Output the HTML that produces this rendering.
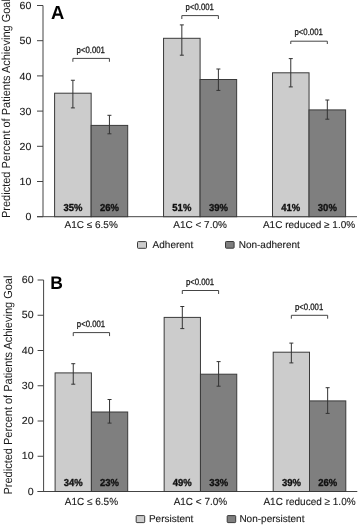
<!DOCTYPE html>
<html><head><meta charset="utf-8"><style>
html,body{margin:0;padding:0;background:#fff;}
body{width:359px;height:526px;overflow:hidden;}
svg{display:block;font-family:"Liberation Sans", sans-serif;text-rendering:geometricPrecision;}
body{filter:grayscale(1);}
</style></head><body>
<svg width="359" height="526" viewBox="0 0 359 526">
<rect width="359" height="526" fill="#fff"/>
<text transform="translate(9.6 218.0) rotate(-90) scale(1 1.07)" font-size="11.0" fill="#1a1a1a" text-anchor="start">Predicted Percent of Patients Achieving Goal</text>
<line x1="43.0" y1="5.5" x2="43.0" y2="216.7" stroke="#444" stroke-width="1"/>
<line x1="37.0" y1="5.50" x2="43.0" y2="5.50" stroke="#444" stroke-width="1"/>
<text transform="translate(31.40 9.10) scale(1.030 1)" font-size="10.3" fill="#1a1a1a" text-anchor="end" stroke="#1a1a1a" stroke-width="0.12">60</text>
<line x1="37.0" y1="40.70" x2="43.0" y2="40.70" stroke="#444" stroke-width="1"/>
<text transform="translate(31.40 44.30) scale(1.030 1)" font-size="10.3" fill="#1a1a1a" text-anchor="end" stroke="#1a1a1a" stroke-width="0.12">50</text>
<line x1="37.0" y1="75.90" x2="43.0" y2="75.90" stroke="#444" stroke-width="1"/>
<text transform="translate(31.40 79.50) scale(1.030 1)" font-size="10.3" fill="#1a1a1a" text-anchor="end" stroke="#1a1a1a" stroke-width="0.12">40</text>
<line x1="37.0" y1="111.10" x2="43.0" y2="111.10" stroke="#444" stroke-width="1"/>
<text transform="translate(31.40 114.70) scale(1.030 1)" font-size="10.3" fill="#1a1a1a" text-anchor="end" stroke="#1a1a1a" stroke-width="0.12">30</text>
<line x1="37.0" y1="146.30" x2="43.0" y2="146.30" stroke="#444" stroke-width="1"/>
<text transform="translate(31.40 149.90) scale(1.030 1)" font-size="10.3" fill="#1a1a1a" text-anchor="end" stroke="#1a1a1a" stroke-width="0.12">20</text>
<line x1="37.0" y1="181.50" x2="43.0" y2="181.50" stroke="#444" stroke-width="1"/>
<text transform="translate(31.40 185.10) scale(1.030 1)" font-size="10.3" fill="#1a1a1a" text-anchor="end" stroke="#1a1a1a" stroke-width="0.12">10</text>
<line x1="37.0" y1="216.70" x2="43.0" y2="216.70" stroke="#444" stroke-width="1"/>
<text transform="translate(31.40 220.30) scale(1.030 1)" font-size="10.3" fill="#1a1a1a" text-anchor="end" stroke="#1a1a1a" stroke-width="0.12">0</text>
<line x1="37.0" y1="216.7" x2="357.0" y2="216.7" stroke="#444" stroke-width="1"/>
<rect x="54.60" y="93.2" width="36.55" height="123.50" fill="#cccccc" stroke="#3a3a3a" stroke-width="1"/>
<rect x="91.15" y="125.4" width="36.55" height="91.30" fill="#7f7f7f" stroke="#3a3a3a" stroke-width="1"/>
<line x1="72.88" y1="80.25" x2="72.88" y2="107.9" stroke="#333" stroke-width="1"/>
<line x1="70.88" y1="80.25" x2="74.88" y2="80.25" stroke="#333" stroke-width="1"/>
<line x1="70.88" y1="107.9" x2="74.88" y2="107.9" stroke="#333" stroke-width="1"/>
<text transform="translate(72.88 211.10) scale(0.930 1)" font-size="10.2" font-weight="bold" fill="#111" text-anchor="middle" stroke="#111" stroke-width="0.35">35%</text>
<line x1="109.43" y1="115.3" x2="109.43" y2="133.8" stroke="#333" stroke-width="1"/>
<line x1="107.43" y1="115.3" x2="111.43" y2="115.3" stroke="#333" stroke-width="1"/>
<line x1="107.43" y1="133.8" x2="111.43" y2="133.8" stroke="#333" stroke-width="1"/>
<text transform="translate(109.43 211.10) scale(0.930 1)" font-size="10.2" font-weight="bold" fill="#111" text-anchor="middle" stroke="#111" stroke-width="0.35">26%</text>
<path d="M72.88 61.8 V58.4 H109.42 V61.8" fill="none" stroke="#444" stroke-width="1"/>
<text transform="translate(90.75 52.60) scale(0.845 1)" font-size="9.2" fill="#1a1a1a" text-anchor="middle" stroke="#1a1a1a" stroke-width="0.28">p&lt;0.001</text>
<text transform="translate(91.15 228.30) scale(1.000 1)" font-size="10.0" fill="#1a1a1a" text-anchor="middle" stroke="#1a1a1a" stroke-width="0.12">A1C ≤ 6.5%</text>
<rect x="163.55" y="38.3" width="36.55" height="178.40" fill="#cccccc" stroke="#3a3a3a" stroke-width="1"/>
<rect x="200.10" y="79.5" width="36.55" height="137.20" fill="#7f7f7f" stroke="#3a3a3a" stroke-width="1"/>
<line x1="181.83" y1="24.9" x2="181.83" y2="55.2" stroke="#333" stroke-width="1"/>
<line x1="179.83" y1="24.9" x2="183.83" y2="24.9" stroke="#333" stroke-width="1"/>
<line x1="179.83" y1="55.2" x2="183.83" y2="55.2" stroke="#333" stroke-width="1"/>
<text transform="translate(181.83 211.10) scale(0.930 1)" font-size="10.2" font-weight="bold" fill="#111" text-anchor="middle" stroke="#111" stroke-width="0.35">51%</text>
<line x1="218.38" y1="69.0" x2="218.38" y2="90.4" stroke="#333" stroke-width="1"/>
<line x1="216.38" y1="69.0" x2="220.38" y2="69.0" stroke="#333" stroke-width="1"/>
<line x1="216.38" y1="90.4" x2="220.38" y2="90.4" stroke="#333" stroke-width="1"/>
<text transform="translate(218.38 211.10) scale(0.930 1)" font-size="10.2" font-weight="bold" fill="#111" text-anchor="middle" stroke="#111" stroke-width="0.35">39%</text>
<path d="M181.83 19.0 V15.6 H218.38 V19.0" fill="none" stroke="#444" stroke-width="1"/>
<text transform="translate(199.70 10.00) scale(0.845 1)" font-size="9.2" fill="#1a1a1a" text-anchor="middle" stroke="#1a1a1a" stroke-width="0.28">p&lt;0.001</text>
<text transform="translate(200.10 228.30) scale(1.000 1)" font-size="10.0" fill="#1a1a1a" text-anchor="middle" stroke="#1a1a1a" stroke-width="0.12">A1C &lt; 7.0%</text>
<rect x="272.50" y="72.8" width="36.55" height="143.90" fill="#cccccc" stroke="#3a3a3a" stroke-width="1"/>
<rect x="309.05" y="109.9" width="36.55" height="106.80" fill="#7f7f7f" stroke="#3a3a3a" stroke-width="1"/>
<line x1="290.77" y1="58.6" x2="290.77" y2="86.9" stroke="#333" stroke-width="1"/>
<line x1="288.77" y1="58.6" x2="292.77" y2="58.6" stroke="#333" stroke-width="1"/>
<line x1="288.77" y1="86.9" x2="292.77" y2="86.9" stroke="#333" stroke-width="1"/>
<text transform="translate(290.77 211.10) scale(0.930 1)" font-size="10.2" font-weight="bold" fill="#111" text-anchor="middle" stroke="#111" stroke-width="0.35">41%</text>
<line x1="327.32" y1="100.0" x2="327.32" y2="119.2" stroke="#333" stroke-width="1"/>
<line x1="325.32" y1="100.0" x2="329.32" y2="100.0" stroke="#333" stroke-width="1"/>
<line x1="325.32" y1="119.2" x2="329.32" y2="119.2" stroke="#333" stroke-width="1"/>
<text transform="translate(327.32 211.10) scale(0.930 1)" font-size="10.2" font-weight="bold" fill="#111" text-anchor="middle" stroke="#111" stroke-width="0.35">30%</text>
<path d="M290.77 44.0 V41.2 H327.32 V44.0" fill="none" stroke="#444" stroke-width="1"/>
<text transform="translate(308.65 35.20) scale(0.845 1)" font-size="9.2" fill="#1a1a1a" text-anchor="middle" stroke="#1a1a1a" stroke-width="0.28">p&lt;0.001</text>
<text transform="translate(309.05 228.30) scale(1.000 1)" font-size="10.0" fill="#1a1a1a" text-anchor="middle" stroke="#1a1a1a" stroke-width="0.12">A1C reduced ≥ 1.0%</text>
<rect x="137.5" y="241.6" width="9.0" height="6.7" fill="#cccccc" stroke="#3a3a3a" stroke-width="1" rx="0.8"/>
<text transform="translate(152.60 248.10) scale(1.000 1)" font-size="10.0" fill="#1a1a1a" text-anchor="start" stroke="#1a1a1a" stroke-width="0.12">Adherent</text>
<rect x="225.5" y="241.5" width="8.6" height="6.7" fill="#7f7f7f" stroke="#3a3a3a" stroke-width="1" rx="0.8"/>
<text transform="translate(238.70 248.10) scale(1.000 1)" font-size="10.0" fill="#1a1a1a" text-anchor="start" stroke="#1a1a1a" stroke-width="0.12">Non-adherent</text>
<text transform="translate(51.00 18.60) scale(0.970 1)" font-size="19.0" font-weight="bold" fill="#000" text-anchor="start">A</text>
<text transform="translate(11.8 494.5) rotate(-90) scale(1 1.07)" font-size="11.0" fill="#1a1a1a" text-anchor="start">Predicted Percent of Patients Achieving Goal</text>
<line x1="43.6" y1="280.0" x2="43.6" y2="491.5" stroke="#444" stroke-width="1"/>
<line x1="37.6" y1="280.00" x2="43.6" y2="280.00" stroke="#444" stroke-width="1"/>
<text transform="translate(33.60 283.10) scale(1.030 1)" font-size="10.3" fill="#1a1a1a" text-anchor="end" stroke="#1a1a1a" stroke-width="0.12">60</text>
<line x1="37.6" y1="315.25" x2="43.6" y2="315.25" stroke="#444" stroke-width="1"/>
<text transform="translate(33.60 318.35) scale(1.030 1)" font-size="10.3" fill="#1a1a1a" text-anchor="end" stroke="#1a1a1a" stroke-width="0.12">50</text>
<line x1="37.6" y1="350.50" x2="43.6" y2="350.50" stroke="#444" stroke-width="1"/>
<text transform="translate(33.60 353.60) scale(1.030 1)" font-size="10.3" fill="#1a1a1a" text-anchor="end" stroke="#1a1a1a" stroke-width="0.12">40</text>
<line x1="37.6" y1="385.75" x2="43.6" y2="385.75" stroke="#444" stroke-width="1"/>
<text transform="translate(33.60 388.85) scale(1.030 1)" font-size="10.3" fill="#1a1a1a" text-anchor="end" stroke="#1a1a1a" stroke-width="0.12">30</text>
<line x1="37.6" y1="421.00" x2="43.6" y2="421.00" stroke="#444" stroke-width="1"/>
<text transform="translate(33.60 424.10) scale(1.030 1)" font-size="10.3" fill="#1a1a1a" text-anchor="end" stroke="#1a1a1a" stroke-width="0.12">20</text>
<line x1="37.6" y1="456.25" x2="43.6" y2="456.25" stroke="#444" stroke-width="1"/>
<text transform="translate(33.60 459.35) scale(1.030 1)" font-size="10.3" fill="#1a1a1a" text-anchor="end" stroke="#1a1a1a" stroke-width="0.12">10</text>
<line x1="37.6" y1="491.50" x2="43.6" y2="491.50" stroke="#444" stroke-width="1"/>
<text transform="translate(33.60 494.60) scale(1.030 1)" font-size="10.3" fill="#1a1a1a" text-anchor="end" stroke="#1a1a1a" stroke-width="0.12">0</text>
<line x1="37.6" y1="491.5" x2="357.3" y2="491.5" stroke="#444" stroke-width="1"/>
<rect x="55.10" y="372.9" width="36.30" height="118.60" fill="#cccccc" stroke="#3a3a3a" stroke-width="1"/>
<rect x="91.40" y="412.0" width="36.30" height="79.50" fill="#7f7f7f" stroke="#3a3a3a" stroke-width="1"/>
<line x1="73.25" y1="363.7" x2="73.25" y2="384.2" stroke="#333" stroke-width="1"/>
<line x1="71.25" y1="363.7" x2="75.25" y2="363.7" stroke="#333" stroke-width="1"/>
<line x1="71.25" y1="384.2" x2="75.25" y2="384.2" stroke="#333" stroke-width="1"/>
<text transform="translate(73.25 486.10) scale(0.930 1)" font-size="10.2" font-weight="bold" fill="#111" text-anchor="middle" stroke="#111" stroke-width="0.35">34%</text>
<line x1="109.55" y1="399.5" x2="109.55" y2="423.1" stroke="#333" stroke-width="1"/>
<line x1="107.55" y1="399.5" x2="111.55" y2="399.5" stroke="#333" stroke-width="1"/>
<line x1="107.55" y1="423.1" x2="111.55" y2="423.1" stroke="#333" stroke-width="1"/>
<text transform="translate(109.55 486.10) scale(0.930 1)" font-size="10.2" font-weight="bold" fill="#111" text-anchor="middle" stroke="#111" stroke-width="0.35">23%</text>
<path d="M73.25 336.1 V332.6 H109.55 V336.1" fill="none" stroke="#444" stroke-width="1"/>
<text transform="translate(91.00 327.20) scale(0.845 1)" font-size="9.2" fill="#1a1a1a" text-anchor="middle" stroke="#1a1a1a" stroke-width="0.28">p&lt;0.001</text>
<text transform="translate(91.40 505.30) scale(0.971 1)" font-size="10.3" fill="#1a1a1a" text-anchor="middle" stroke="#1a1a1a" stroke-width="0.12">A1C ≤ 6.5%</text>
<rect x="164.15" y="317.4" width="36.30" height="174.10" fill="#cccccc" stroke="#3a3a3a" stroke-width="1"/>
<rect x="200.45" y="374.2" width="36.30" height="117.30" fill="#7f7f7f" stroke="#3a3a3a" stroke-width="1"/>
<line x1="182.30" y1="306.5" x2="182.30" y2="328.6" stroke="#333" stroke-width="1"/>
<line x1="180.30" y1="306.5" x2="184.30" y2="306.5" stroke="#333" stroke-width="1"/>
<line x1="180.30" y1="328.6" x2="184.30" y2="328.6" stroke="#333" stroke-width="1"/>
<text transform="translate(182.30 486.10) scale(0.930 1)" font-size="10.2" font-weight="bold" fill="#111" text-anchor="middle" stroke="#111" stroke-width="0.35">49%</text>
<line x1="218.60" y1="361.6" x2="218.60" y2="386.2" stroke="#333" stroke-width="1"/>
<line x1="216.60" y1="361.6" x2="220.60" y2="361.6" stroke="#333" stroke-width="1"/>
<line x1="216.60" y1="386.2" x2="220.60" y2="386.2" stroke="#333" stroke-width="1"/>
<text transform="translate(218.60 486.10) scale(0.930 1)" font-size="10.2" font-weight="bold" fill="#111" text-anchor="middle" stroke="#111" stroke-width="0.35">33%</text>
<path d="M182.30 294.0 V290.5 H218.60 V294.0" fill="none" stroke="#444" stroke-width="1"/>
<text transform="translate(200.05 285.30) scale(0.845 1)" font-size="9.2" fill="#1a1a1a" text-anchor="middle" stroke="#1a1a1a" stroke-width="0.28">p&lt;0.001</text>
<text transform="translate(200.45 505.30) scale(0.971 1)" font-size="10.3" fill="#1a1a1a" text-anchor="middle" stroke="#1a1a1a" stroke-width="0.12">A1C &lt; 7.0%</text>
<rect x="273.20" y="352.2" width="36.30" height="139.30" fill="#cccccc" stroke="#3a3a3a" stroke-width="1"/>
<rect x="309.50" y="400.9" width="36.30" height="90.60" fill="#7f7f7f" stroke="#3a3a3a" stroke-width="1"/>
<line x1="291.35" y1="343.1" x2="291.35" y2="362.9" stroke="#333" stroke-width="1"/>
<line x1="289.35" y1="343.1" x2="293.35" y2="343.1" stroke="#333" stroke-width="1"/>
<line x1="289.35" y1="362.9" x2="293.35" y2="362.9" stroke="#333" stroke-width="1"/>
<text transform="translate(291.35 486.10) scale(0.930 1)" font-size="10.2" font-weight="bold" fill="#111" text-anchor="middle" stroke="#111" stroke-width="0.35">39%</text>
<line x1="327.65" y1="387.7" x2="327.65" y2="413.4" stroke="#333" stroke-width="1"/>
<line x1="325.65" y1="387.7" x2="329.65" y2="387.7" stroke="#333" stroke-width="1"/>
<line x1="325.65" y1="413.4" x2="329.65" y2="413.4" stroke="#333" stroke-width="1"/>
<text transform="translate(327.65 486.10) scale(0.930 1)" font-size="10.2" font-weight="bold" fill="#111" text-anchor="middle" stroke="#111" stroke-width="0.35">26%</text>
<path d="M291.35 318.7 V315.3 H327.65 V318.7" fill="none" stroke="#444" stroke-width="1"/>
<text transform="translate(309.10 309.80) scale(0.845 1)" font-size="9.2" fill="#1a1a1a" text-anchor="middle" stroke="#1a1a1a" stroke-width="0.28">p&lt;0.001</text>
<text transform="translate(309.50 505.30) scale(0.971 1)" font-size="10.3" fill="#1a1a1a" text-anchor="middle" stroke="#1a1a1a" stroke-width="0.12">A1C reduced ≥ 1.0%</text>
<rect x="136.2" y="515.6" width="8.5" height="7.0" fill="#cccccc" stroke="#3a3a3a" stroke-width="1" rx="0.8"/>
<text transform="translate(148.90 522.40) scale(1.000 1)" font-size="10.0" fill="#1a1a1a" text-anchor="start" stroke="#1a1a1a" stroke-width="0.12">Persistent</text>
<rect x="227.2" y="515.6" width="8.5" height="7.0" fill="#7f7f7f" stroke="#3a3a3a" stroke-width="1" rx="0.8"/>
<text transform="translate(239.40 522.40) scale(1.000 1)" font-size="10.0" fill="#1a1a1a" text-anchor="start" stroke="#1a1a1a" stroke-width="0.12">Non-persistent</text>
<text transform="translate(50.30 289.30) scale(0.955 1)" font-size="18.3" font-weight="bold" fill="#000" text-anchor="start">B</text>
</svg>
</body></html>
